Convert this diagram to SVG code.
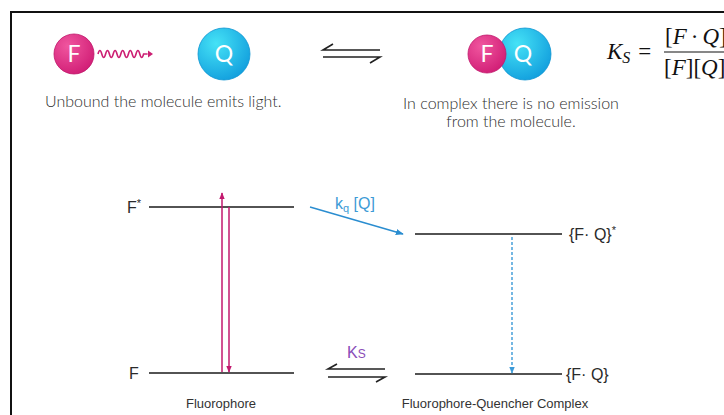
<svg xmlns="http://www.w3.org/2000/svg" width="724" height="415" viewBox="0 0 724 415">
<defs>
  <radialGradient id="gPink" cx="0.35" cy="0.3" r="0.8">
    <stop offset="0" stop-color="#f0569f"/>
    <stop offset="1" stop-color="#cf1a73"/>
  </radialGradient>
  <radialGradient id="gCyan" cx="0.35" cy="0.3" r="0.8">
    <stop offset="0" stop-color="#45e2f6"/>
    <stop offset="1" stop-color="#0f9bdc"/>
  </radialGradient>
  <marker id="mPink" viewBox="0 0 10 10" refX="9" refY="5" markerWidth="7" markerHeight="7" orient="auto" markerUnits="userSpaceOnUse">
    <path d="M0,1 L10,5 L0,9 z" fill="#c2186e"/>
  </marker>
  <marker id="mBlue" viewBox="0 0 10 10" refX="9" refY="5" markerWidth="8" markerHeight="8" orient="auto" markerUnits="userSpaceOnUse">
    <path d="M0,1 L10,5 L0,9 z" fill="#2a8dd0"/>
  </marker>
  <marker id="mBlueD" viewBox="0 0 10 10" refX="9" refY="5" markerWidth="7" markerHeight="7" orient="auto" markerUnits="userSpaceOnUse">
    <path d="M0,1 L10,5 L0,9 z" fill="#3b9ad8"/>
  </marker>
</defs>
<style>
  .cap { font-family: Lato, "Noto Sans", sans-serif; font-weight: 300; font-size: 16px; fill: #2e2e2e; }
  .ball { font-family: Lato, "Noto Sans", sans-serif; font-size: 23px; fill: #ffffff; text-anchor: middle; }
  .lvl { stroke: #1a1a1a; stroke-width: 1.6; fill: none; }
  .eq { stroke: #222; stroke-width: 1.6; fill: none; }
  .lab { font-family: "Liberation Sans", Roboto, sans-serif; font-size: 16px; fill: #2a2a2a; }
  .small { font-family: "Liberation Sans", Roboto, sans-serif; font-size: 13px; fill: #333; }
  .math { font-family: "Liberation Serif", serif; font-size: 23px; fill: #111; }
  .it { font-style: italic; }
</style>
<rect width="724" height="415" fill="#ffffff"/>
<path d="M11,415 V12 H724" fill="none" stroke="#111" stroke-width="2"/>

<g id="free-fluorophore">
  <circle cx="74" cy="54" r="20" fill="url(#gPink)" stroke="#c0176b" stroke-width="0.8"/>
  <text class="ball" x="74" y="62">F</text>
  <path d="M98,54 q1.9,-7 3.8,0 q1.9,7 3.8,0 q1.9,-7 3.8,0 q1.9,7 3.8,0 q1.9,-7 3.8,0 q1.9,7 3.8,0 q1.9,-7 3.8,0 q1.9,7 3.8,0 q1.9,-7 3.8,0 q1.9,7 3.8,0 q1.9,-7 3.8,0 q1.9,7 3.8,0 l4,0" fill="none" stroke="#cc1f73" stroke-width="1.6"/>
  <path d="M148,50.5 L153,54 L148,57.5 z" fill="#cc1f73"/>
</g>

<g id="free-quencher">
  <circle cx="224" cy="54" r="26" fill="url(#gCyan)" stroke="#0e95d2" stroke-width="0.8"/>
  <text class="ball" x="224" y="62">Q</text>
</g>

<g id="top-equilibrium">
  <path class="eq" d="M380,50 H323 L333,44"/>
  <path class="eq" d="M323,57 H380 L370,63"/>
</g>

<g id="complex">
  <circle cx="525" cy="54" r="26" fill="url(#gCyan)" stroke="#0e95d2" stroke-width="0.8"/>
  <circle cx="487" cy="54" r="19" fill="url(#gPink)" stroke="#c0176b" stroke-width="0.8"/>
  <text class="ball" x="487" y="62">F</text>
  <text class="ball" x="523" y="62">Q</text>
</g>

<g id="formula">
  <text class="math" x="607" y="59"><tspan class="it">K</tspan><tspan class="it" font-size="16px" dy="4">S</tspan><tspan dy="-4" dx="8">=</tspan></text>
  <text class="math" x="665" y="44">[<tspan class="it">F</tspan><tspan dx="4">·</tspan><tspan class="it" dx="4">Q</tspan>]</text>
  <line x1="664" y1="52" x2="724" y2="52" stroke="#111" stroke-width="1.2"/>
  <text class="math" x="664" y="75">[<tspan class="it">F</tspan>][<tspan class="it">Q</tspan>]</text>
</g>

<g id="captions">
  <text class="cap" x="45" y="107">Unbound the molecule emits light.</text>
  <text class="cap" x="511" y="109" text-anchor="middle">In complex there is no emission</text>
  <text class="cap" x="511" y="127" text-anchor="middle">from the molecule.</text>
</g>

<g id="level-Fstar">
  <line class="lvl" x1="149" y1="207" x2="294" y2="207"/>
  <text class="lab" x="127" y="213">F<tspan font-size="11px" dy="-6">*</tspan></text>
</g>
<g id="level-F">
  <line class="lvl" x1="149" y1="373" x2="294" y2="373"/>
  <text class="lab" x="129" y="379">F</text>
  <text class="small" x="221" y="408" text-anchor="middle">Fluorophore</text>
</g>
<g id="level-FQstar">
  <line class="lvl" x1="415" y1="234" x2="562" y2="234"/>
  <text class="lab" x="569" y="240">{F· Q}<tspan font-size="11px" dy="-6">*</tspan></text>
</g>
<g id="level-FQ">
  <line class="lvl" x1="415" y1="374" x2="562" y2="374"/>
  <text class="lab" x="566" y="380">{F· Q}</text>
  <text class="small" x="495" y="408" text-anchor="middle">Fluorophore-Quencher Complex</text>
</g>

<g id="connectors">
  <line x1="222" y1="372" x2="222" y2="193" stroke="#c2186e" stroke-width="1.5" marker-end="url(#mPink)"/>
  <line x1="229" y1="207" x2="229" y2="372" stroke="#c2186e" stroke-width="1.5" marker-end="url(#mPink)"/>
  <line x1="310" y1="207" x2="403" y2="234" stroke="#2a8dd0" stroke-width="1.4" marker-end="url(#mBlue)"/>
  <text x="335" y="209" font-family="Liberation Sans, Roboto, sans-serif" font-size="16px" fill="#3d9bd6">k<tspan font-size="11px" dy="3">q</tspan><tspan dy="-3"> [Q]</tspan></text>
  <line x1="512" y1="237" x2="512" y2="373" stroke="#3b9ad8" stroke-width="1.4" stroke-dasharray="3,2" marker-end="url(#mBlueD)"/>
  <path class="eq" d="M385,369 H328 L337,364"/>
  <path class="eq" d="M328,377 H385 L376,382"/>
  <text x="347" y="358" font-family="Liberation Sans, Roboto, sans-serif" font-size="16px" fill="#8a4db8">K<tspan font-size="12px">S</tspan></text>
</g>
</svg>
